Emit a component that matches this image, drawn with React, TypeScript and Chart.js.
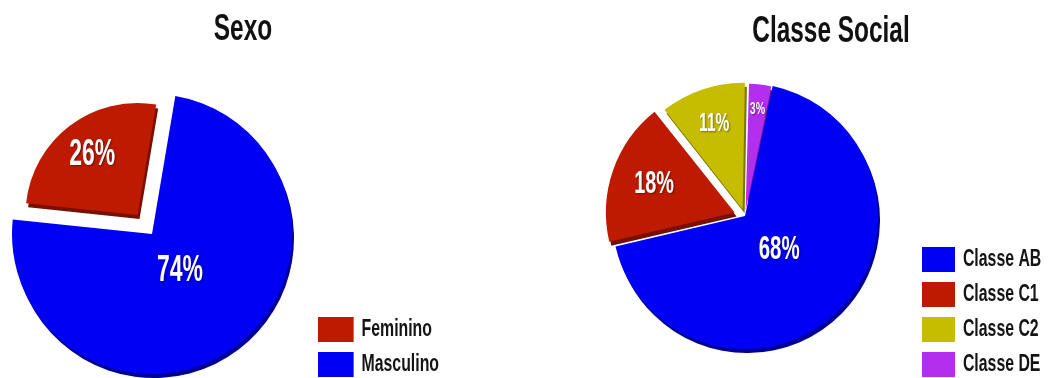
import React, { useEffect, useRef } from 'react';
import { Chart, registerables } from 'chart.js';

Chart.register(...registerables);

const FONT = "'Liberation Sans', Arial, sans-serif";

// ---- data ----
const sexoTitle = 'Sexo';
const sexoLabels = ['Feminino', 'Masculino'];
const sexoValues = [26, 74];

const classeTitle = 'Classe Social';
const classeLabels = ['Classe AB', 'Classe C1', 'Classe C2', 'Classe DE'];
const classeValues = [68, 18, 11, 3];

// ---- styles ----
const sexoColors = ['#BE1A00', '#0000F2'];
const classeColors = ['#0000F2', '#BE1A00', '#C6BC00', '#B42EEE'];

// Chart.js 4 draws an arc's offset as offset/4 * (2 - sin(circumference)); convert a wanted displacement.
function offsetsFor(values: number[], displacement: number[]) {
  const total = values.reduce((a, b) => a + b, 0);
  return values.map((v, i) => {
    const c = (v / total) * Math.PI * 2;
    return (4 * displacement[i]) / (2 - Math.sin(Math.min(Math.PI, c)));
  });
}

function effectiveOffset(arc: any) {
  const off = (arc.options.offset || 0) / 4;
  const c = arc.circumference || 0;
  return off * (2 - Math.sin(Math.min(Math.PI, c)));
}

function darken(hex: string, f: number) {
  const n = parseInt(hex.slice(1), 16);
  const r = Math.round(((n >> 16) & 255) * f);
  const g = Math.round(((n >> 8) & 255) * f);
  const b = Math.round((n & 255) * f);
  return `rgb(${r},${g},${b})`;
}

// Condensed look: title and legend are drawn by Chart.js, squeezed horizontally.
const condensePlugin = {
  id: 'condense',
  beforeLayout(chart: any, _args: any, opts: any) {
    if (chart._condensed) return;
    chart._condensed = true;
    const s = opts.scale;
    const tb = chart.titleBlock;
    if (tb) {
      const orig = tb.draw;
      tb.draw = function (area: any) {
        const ctx = this.ctx;
        const cx = (this.left + this.right) / 2;
        ctx.save();
        ctx.translate(cx, 0);
        ctx.scale(s, 1);
        ctx.translate(-cx, 0);
        orig.call(this, area);
        ctx.restore();
      };
    }
    const lg = chart.legend;
    if (lg) {
      const origFit = lg.fit;
      lg.fit = function () {
        origFit.call(this);
        if (opts.legendWidth) this.width = opts.legendWidth;
      };
      const origDraw = lg.draw;
      lg.draw = function (area: any) {
        const ctx = this.ctx;
        const cx = this.left + this.options.labels.padding;
        const savedRight = this.right;
        // un-squeezed room for the text, so the clip of the legend box does not cut it
        this.right = cx + (savedRight - cx) / s;
        ctx.save();
        ctx.translate(cx, 0);
        ctx.scale(s, 1);
        ctx.translate(-cx, 0);
        origDraw.call(this, area);
        ctx.restore();
        this.right = savedRight;
      };
    }
  },
};

const sliceRadiusPlugin = {
  id: 'sliceRadius',
  afterDatasetUpdate(_chart: any, args: any, opts: any) {
    const scales = (opts && opts.scales) || [];
    args.meta.data.forEach((arc: any, i: number) => {
      if (scales[i]) arc.outerRadius = arc.outerRadius * scales[i];
    });
  },
};

// 3D thickness: each slice drawn once more, shifted, in a darker tone, beneath the slices.
const rimPlugin = {
  id: 'rim',
  beforeDatasetsDraw(chart: any, _args: any, opts: any) {
    const ctx = chart.ctx;
    const meta = chart.getDatasetMeta(0);
    meta.data.forEach((arc: any) => {
      const saved = arc.options;
      const base = saved.backgroundColor as string;
      arc.options = { ...saved, backgroundColor: darken(base, opts.factor), borderWidth: 0 };
      ctx.save();
      ctx.translate(opts.dx, opts.dy);
      arc.draw(ctx);
      ctx.restore();
      arc.options = saved;
    });
  },
};

const sliceLabelPlugin = {
  id: 'sliceLabels',
  afterDatasetsDraw(chart: any, _args: any, opts: any) {
    const ctx = chart.ctx;
    const meta = chart.getDatasetMeta(0);
    const values = chart.data.datasets[0].data;
    meta.data.forEach((arc: any, i: number) => {
      const { x, y, startAngle, endAngle, outerRadius } = arc.getProps(
        ['x', 'y', 'startAngle', 'endAngle', 'outerRadius'],
        true
      );
      const mid = (startAngle + endAngle) / 2;
      const d = effectiveOffset(arc) + opts.fractions[i] * outerRadius;
      ctx.save();
      ctx.translate(x + Math.cos(mid) * d, y + Math.sin(mid) * d);
      ctx.scale(opts.scale, 1);
      ctx.font = `bold ${opts.sizes[i]}px ${FONT}`;
      ctx.fillStyle = '#ffffff';
      ctx.textAlign = 'center';
      ctx.textBaseline = 'middle';
      ctx.shadowColor = 'rgba(0,0,0,0.4)';
      ctx.shadowBlur = 2;
      ctx.shadowOffsetX = 1;
      ctx.shadowOffsetY = 1;
      ctx.fillText(values[i] + '%', 0, 0);
      ctx.restore();
    });
  },
};

type PieProps = {
  left: number;
  width: number;
  height: number;
  title: string;
  titlePadding: { top: number; bottom: number };
  labels: string[];
  values: number[];
  colors: string[];
  displacement: number[];
  radius: number;
  rotation: number;
  legendWidth: number;
  boxWidth: number;
  radiusScales: number[];
  labelFractions: number[];
  labelSizes: number[];
};

function PieChart(p: PieProps) {
  const ref = useRef<HTMLCanvasElement>(null);
  useEffect(() => {
    if (!ref.current) return;
    const chart = new Chart(ref.current, {
      type: 'pie',
      data: {
        labels: p.labels,
        datasets: [
          {
            data: p.values,
            backgroundColor: p.colors,
            borderWidth: 0,
            offset: offsetsFor(p.values, p.displacement),
          },
        ],
      },
      options: {
        responsive: false,
        animation: false,
        events: [],
        radius: p.radius,
        rotation: p.rotation,
        layout: { padding: 0 },
        plugins: {
          title: {
            display: true,
            text: p.title,
            color: '#111111',
            font: { family: FONT, size: 37, weight: 'bold', lineHeight: 0.6 },
            padding: p.titlePadding,
          },
          legend: {
            display: true,
            position: 'right',
            align: 'end',
            labels: {
              boxWidth: p.boxWidth,
              boxHeight: 25,
              padding: 10,
              color: '#141414',
              font: { family: FONT, size: 24, weight: 'bold' },
            },
          },
          tooltip: { enabled: false },
          condense: { scale: 0.66, legendWidth: p.legendWidth },
          sliceRadius: { scales: p.radiusScales },
          rim: { dx: 2, dy: 4, factor: 0.62 },
          sliceLabels: { fractions: p.labelFractions, sizes: p.labelSizes, scale: 0.62 },
        } as any,
      } as any,
      plugins: [condensePlugin, sliceRadiusPlugin, rimPlugin, sliceLabelPlugin] as any,
    });
    return () => chart.destroy();
  }, []);
  return (
    <canvas
      ref={ref}
      width={p.width}
      height={p.height}
      style={{ position: 'absolute', left: p.left, top: 0, width: p.width, height: p.height, display: 'block' }}
    />
  );
}

export default function App() {
  return (
    <div
      style={{
        position: 'absolute',
        left: 0,
        top: 0,
        width: 1048,
        height: 378,
        overflow: 'hidden',
        background: '#ffffff',
      }}
    >
      <PieChart
        left={-4}
        width={494}
        height={387}
        title={sexoTitle}
        titlePadding={{ top: 19, bottom: 40 }}
        labels={sexoLabels}
        values={sexoValues}
        colors={sexoColors}
        displacement={[24, 0]}
        radius={140}
        rotation={-84}
        legendWidth={182}
        boxWidth={54}
        radiusScales={[0.8, 1]}
        labelFractions={[0.67, 0.33]}
        labelSizes={[37, 37]}
      />
      <PieChart
        left={578}
        width={506}
        height={387}
        title={classeTitle}
        titlePadding={{ top: 21, bottom: 2 }}
        labels={classeLabels}
        values={classeValues}
        colors={classeColors}
        displacement={[0, 12, 10, 10]}
        radius={133}
        rotation={12}
        legendWidth={172}
        boxWidth={50}
        radiusScales={[1, 0.96, 0.93, 0.92]}
        labelFractions={[0.36, 0.66, 0.7, 0.8]}
        labelSizes={[33, 32, 25, 17]}
      />
    </div>
  );
}
